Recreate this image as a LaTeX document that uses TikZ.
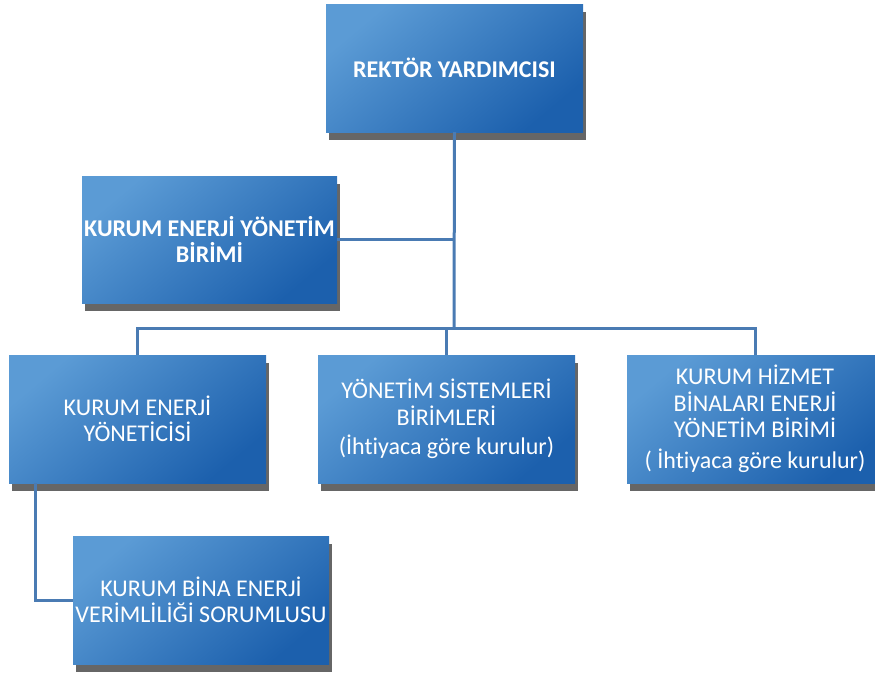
\documentclass[tikz,border=0pt]{standalone}
\usepackage{fontspec}
\setmainfont[Ligatures=NoCommon]{Carlito}
\usetikzlibrary{shadows,calc}
\definecolor{boxlight}{HTML}{5B9BD5}
\definecolor{boxdark}{HTML}{1C60AD}
\definecolor{linecol}{HTML}{4A7BB3}
\definecolor{shadowcol}{HTML}{666666}
\begin{document}
\begin{tikzpicture}[x=1pt,y=-1pt,
  orgbox/.style={rectangle, minimum width=257pt, minimum height=128pt, inner sep=0pt,
    text=white, align=center, font=\fontsize{24}{26.5}\selectfont,
    top color=boxlight, bottom color=boxdark, shading angle=40,
    drop shadow={shadow xshift=3pt, shadow yshift=-8pt, fill=shadowcol, opacity=1}},
  boldtext/.style={font=\bfseries\fontsize{24}{26.5}\selectfont},
  conn/.style={draw=linecol, line width=3pt}]
\useasboundingbox (0,0) rectangle (875,680);
\node[orgbox, boldtext] (rek) at (454.5,68) {REKTÖR YARDIMCISI};
\node[orgbox, boldtext, minimum width=255pt, minimum height=127pt] (keyb) at (209.5,239.5) {KURUM ENERJİ YÖNETİM\\BİRİMİ};
\node[orgbox] (key) at (137.5,419) {KURUM ENERJİ\\YÖNETİCİSİ};
\node[orgbox] (ysb) at (446.5,419) {YÖNETİM SİSTEMLERİ\\BİRİMLERİ\\[3pt](İhtiyaca göre kurulur)};
\node[orgbox, minimum width=256pt] (khb) at (755,419) {KURUM HİZMET\\BİNALARI ENERJİ\\YÖNETİM BİRİMİ\\[4pt]( İhtiyaca göre kurulur)};
\node[orgbox, minimum width=256pt] (kbe) at (201,600) {KURUM BİNA ENERJİ\\VERİMLİLİĞİ SORUMLUSU};
\coordinate (hub) at (454,328);
\coordinate (kdrop) at (35,483);
\draw[conn] (rek.south) -- (hub);
\draw[conn] (keyb.east) -- (keyb.east -| hub);
\draw[conn] (key.north) |- (khb.north |- hub) -- (khb.north);
\draw[conn] (ysb.north) -- (ysb.north |- hub);
\draw[conn] (kdrop) |- (kbe.west);
\end{tikzpicture}
\end{document}
